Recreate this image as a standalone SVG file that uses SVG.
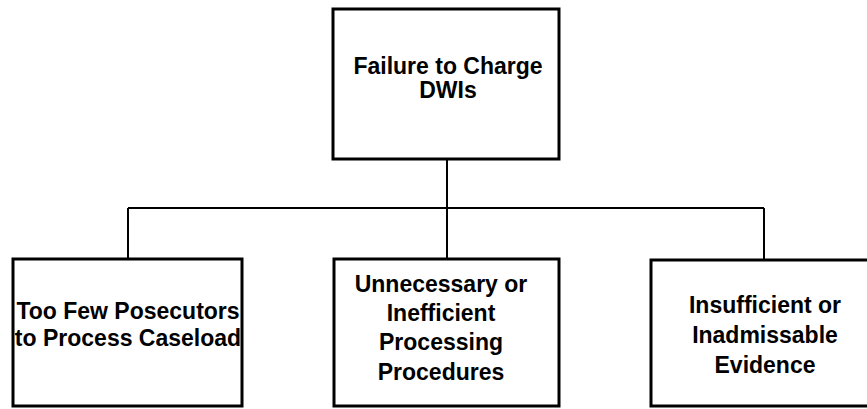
<svg xmlns="http://www.w3.org/2000/svg" width="867" height="409" viewBox="0 0 867 409">
  <style>
    .box { fill: #ffffff; stroke: #000000; stroke-width: 3; }
    .wire { fill: none; stroke: #000000; stroke-width: 2; }
    .label { font-family: "Liberation Sans", Arial, sans-serif; font-weight: bold; font-size: 23px; fill: #000000; text-anchor: middle; }
  </style>
  <rect width="867" height="409" fill="#ffffff"/>

  <g id="connectors">
    <line class="wire" x1="447" y1="159" x2="447" y2="259"/>
    <line class="wire" x1="128" y1="208" x2="764" y2="208"/>
    <line class="wire" x1="128" y1="208" x2="128" y2="259"/>
    <line class="wire" x1="764" y1="208" x2="764" y2="260"/>
  </g>

  <g id="root">
    <rect class="box" x="333" y="9" width="226" height="150"/>
    <text class="label" font-size="22" x="448" y="74">Failure to Charge</text>
    <text class="label" font-size="22" x="448" y="98">DWIs</text>
  </g>

  <g id="prosecutors">
    <rect class="box" x="13" y="259" width="229" height="147"/>
    <text class="label" x="128" y="319">Too Few Posecutors</text>
    <text class="label" x="128" y="346">to Process Caseload</text>
  </g>

  <g id="procedures">
    <rect class="box" x="334" y="259" width="225" height="147"/>
    <text class="label" x="441" y="292">Unnecessary or</text>
    <text class="label" x="441" y="321">Inefficient</text>
    <text class="label" x="441" y="350">Processing</text>
    <text class="label" x="441" y="380">Procedures</text>
  </g>

  <g id="evidence">
    <rect class="box" x="651" y="260" width="240" height="146"/>
    <text class="label" x="765" y="313">Insufficient or</text>
    <text class="label" x="765" y="343">Inadmissable</text>
    <text class="label" x="765" y="373">Evidence</text>
  </g>
</svg>
